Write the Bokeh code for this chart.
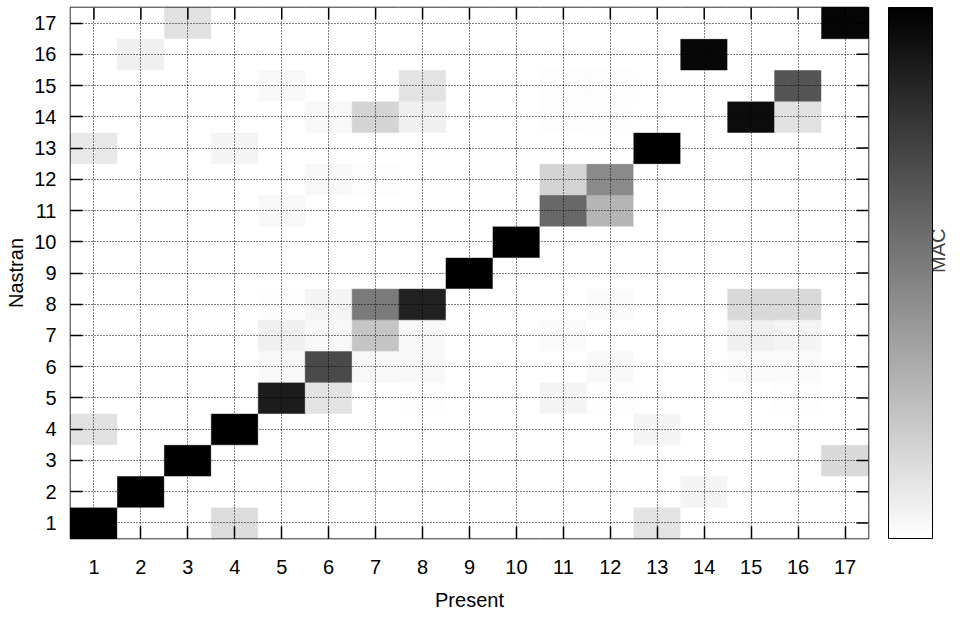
import math
from bokeh.plotting import figure
from bokeh.models import (LinearAxis, FixedTicker, ColorBar, LinearColorMapper,
                          ColumnDataSource, Range1d)
from bokeh.palettes import Greys256
from bokeh.embed import file_html
from bokeh.resources import INLINE

# mode numbers (categories on both axes)
modes = list(range(1, 18))
tick_labels = [str(m) for m in modes]

# non-zero MAC entries: (Nastran mode, Present mode, MAC)
nastran_idx = [1, 1, 1,
               2, 2,
               3, 3,
               4, 4, 4,
               5, 5, 5, 5, 5, 5,
               6, 6, 6, 6, 6, 6, 6,
               7, 7, 7, 7, 7, 7, 7,
               8, 8, 8, 8, 8, 8, 8,
               9,
               10,
               11, 11, 11,
               12, 12, 12, 12,
               13, 13, 13,
               14, 14, 14, 14, 14, 14, 14,
               15, 15, 15, 15, 15,
               16, 16,
               17, 17]
present_idx = [1, 4, 13,
               2, 14,
               3, 17,
               1, 4, 13,
               5, 6, 8, 11, 12, 16,
               5, 6, 7, 8, 12, 15, 16,
               5, 6, 7, 8, 11, 15, 16,
               5, 6, 7, 8, 12, 15, 16,
               9,
               10,
               5, 11, 12,
               6, 7, 11, 12,
               1, 4, 13,
               6, 7, 8, 11, 12, 15, 16,
               5, 8, 11, 12, 16,
               2, 14,
               3, 17]
mac_value = [1.00, 0.14, 0.11,
             1.00, 0.045,
             1.00, 0.15,
             0.12, 1.00, 0.045,
             0.89, 0.11, 0.01, 0.045, 0.01, 0.01,
             0.03, 0.71, 0.03, 0.03, 0.03, 0.02, 0.02,
             0.06, 0.03, 0.23, 0.03, 0.02, 0.06, 0.045,
             0.01, 0.045, 0.52, 0.87, 0.02, 0.15, 0.15,
             1.00,
             1.00,
             0.03, 0.59, 0.29,
             0.03, 0.01, 0.17, 0.46,
             0.09, 0.045, 1.00,
             0.03, 0.17, 0.06, 0.01, 0.005, 0.95, 0.12,
             0.03, 0.11, 0.01, 0.01, 0.67,
             0.06, 0.97,
             0.12, 0.98]

# full 17x17 table (cells not listed are ~0)
cell = {(n, c): 0.0 for n in modes for c in modes}
for n, c, v in zip(nastran_idx, present_idx, mac_value):
    cell[(n, c)] = v
xs, ys, vs = [], [], []
for n in modes:
    for c in modes:
        xs.append(c)
        ys.append(n)
        vs.append(cell[(n, c)])
src = ColumnDataSource(dict(x=xs, y=ys, v=vs))

FONT = "Liberation Sans"
FS = "20px"
FRAME_W, FRAME_H = 798, 531
TICK = 12

lo, hi = modes[0] - 0.5, modes[-1] + 0.5
mapper = LinearColorMapper(palette=list(reversed(Greys256)), low=0, high=1)

p = figure(width=962, height=617, output_backend="svg", toolbar_location=None,
           x_range=Range1d(lo, hi), y_range=Range1d(lo, hi),
           min_border_left=70, min_border_right=94, min_border_top=7,
           min_border_bottom=79, background_fill_color="white",
           border_fill_color="white")

p.rect(x="x", y="y", width=1, height=1, source=src,
       fill_color={"field": "v", "transform": mapper},
       line_color={"field": "v", "transform": mapper}, line_width=0.5)

# mirrored inward ticks on the top and right frame edges
ty = TICK * (hi - lo) / FRAME_H
tx = TICK * (hi - lo) / FRAME_W
p.segment(x0=modes, y0=[hi] * len(modes), x1=modes,
          y1=[hi - ty] * len(modes), line_color="black", line_width=1.5)
p.segment(x0=[hi] * len(modes), y0=modes, x1=[hi - tx] * len(modes),
          y1=modes, line_color="black", line_width=1.5)

bottom = p.below[0]
left = p.left[0]
for ax in (bottom, left):
    ax.ticker = FixedTicker(ticks=modes)
    ax.major_label_overrides = {m: t for m, t in zip(modes, tick_labels)}
    ax.major_tick_in = TICK
    ax.major_tick_out = 0
    ax.major_tick_line_color = "black"
    ax.major_tick_line_width = 1.5
    ax.minor_tick_line_color = None
    ax.axis_line_color = None
    ax.major_label_text_font = FONT
    ax.major_label_text_font_size = FS
    ax.major_label_text_color = "black"
    ax.axis_label_text_font = FONT
    ax.axis_label_text_font_size = FS
    ax.axis_label_text_font_style = "normal"
    ax.axis_label_text_color = "black"

bottom.axis_label = "Present"
left.axis_label = "Nastran"
bottom.major_label_standoff = 21
bottom.axis_label_standoff = 12
left.major_label_standoff = 14
left.axis_label_standoff = 4

for g in (p.xgrid[0], p.ygrid[0]):
    g.grid_line_color = "black"
    g.grid_line_dash = "1 2"
    g.grid_line_width = 1
    g.level = "overlay"

p.outline_line_color = "black"
p.outline_line_width = 1.5

cb = ColorBar(color_mapper=mapper, width=44, height=FRAME_H, padding=0, margin=0,
              location=(20, 0), ticker=FixedTicker(ticks=[]),
              major_tick_line_color=None, minor_tick_line_color=None,
              bar_line_color="black", bar_line_width=1,
              background_fill_color=None, border_line_color=None)
p.add_layout(cb, "right")

mac_axis = LinearAxis(axis_label="MAC", ticker=FixedTicker(ticks=[]),
                      axis_line_color=None, major_tick_line_color=None,
                      minor_tick_line_color=None, major_tick_out=0,
                      major_label_standoff=0,
                      axis_label_text_font=FONT, axis_label_text_font_size=FS,
                      axis_label_text_font_style="normal",
                      axis_label_orientation=math.pi / 2,
                      axis_label_text_baseline="middle",
                      axis_label_standoff=5)
p.add_layout(mac_axis, "right")

open("out.html", "w").write(file_html(p, INLINE))
